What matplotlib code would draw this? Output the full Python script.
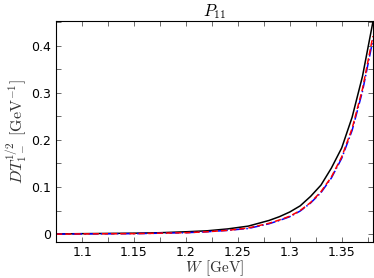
import matplotlib
matplotlib.use('Agg')
import matplotlib.pyplot as plt
import numpy as np
from matplotlib.ticker import MultipleLocator

plt.rcParams['mathtext.fontset'] = 'cm'

# W [GeV]
w = [1.075, 1.10, 1.125, 1.15, 1.175, 1.20, 1.22, 1.24, 1.26, 1.28, 1.29,
     1.30, 1.31, 1.32, 1.33, 1.34, 1.35, 1.36, 1.37, 1.38]
dt_black = [0.0005, 0.001, 0.0015, 0.002, 0.003, 0.005, 0.007, 0.011, 0.017, 0.029, 0.037,
            0.047, 0.060, 0.080, 0.104, 0.140, 0.183, 0.248, 0.335, 0.450]
dt_red = [0.0, 0.0005, 0.0008, 0.001, 0.002, 0.003, 0.005, 0.008, 0.013, 0.023, 0.030,
          0.038, 0.050, 0.067, 0.090, 0.121, 0.164, 0.224, 0.308, 0.420]
dt_blue = [0.0, 0.0005, 0.0008, 0.001, 0.002, 0.003, 0.005, 0.008, 0.012, 0.022, 0.029,
           0.037, 0.049, 0.066, 0.088, 0.119, 0.161, 0.220, 0.303, 0.412]

fig = plt.figure(figsize=(3.74, 2.78), dpi=100)
ax = fig.add_axes([0.150, 0.129, 0.847, 0.795])

ax.plot(w, dt_black, color='black', lw=1.1)
ax.plot(w, dt_blue, color='blue', lw=1.1, ls='-.')
ax.plot(w, dt_red, color='red', lw=1.1, ls=(0, (4, 2)))

ax.set_xlim(1.075, 1.38)
ax.set_ylim(-0.017, 0.452)
ax.set_xticks([1.1, 1.15, 1.2, 1.25, 1.3, 1.35])
ax.set_xticklabels(['1.1', '1.15', '1.2', '1.25', '1.3', '1.35'])
ax.set_yticks([0, 0.1, 0.2, 0.3, 0.4])
ax.set_yticklabels(['0', '0.1', '0.2', '0.3', '0.4'])
ax.xaxis.set_minor_locator(MultipleLocator(0.025))
ax.yaxis.set_minor_locator(MultipleLocator(0.05))
ax.tick_params(which='both', direction='in', top=True, right=True, labelsize=9,
               width=0.6, color='#555555', length=3.5)
ax.tick_params(axis='x', pad=2.5)
for s in ax.spines.values():
    s.set_linewidth(0.8)

ax.set_title(r'$P_{11}$', fontsize=12, pad=2)
ax.set_xlabel(r'$W\;\,[\mathrm{GeV}]$', fontsize=11, labelpad=0, color='#333333')
ax.set_ylabel(r'$DT_{1-}^{1/2}\;\,[\mathrm{GeV}^{-1}]$', fontsize=11.5, labelpad=1, color='#333333')

fig.savefig('out.png', dpi=100)
